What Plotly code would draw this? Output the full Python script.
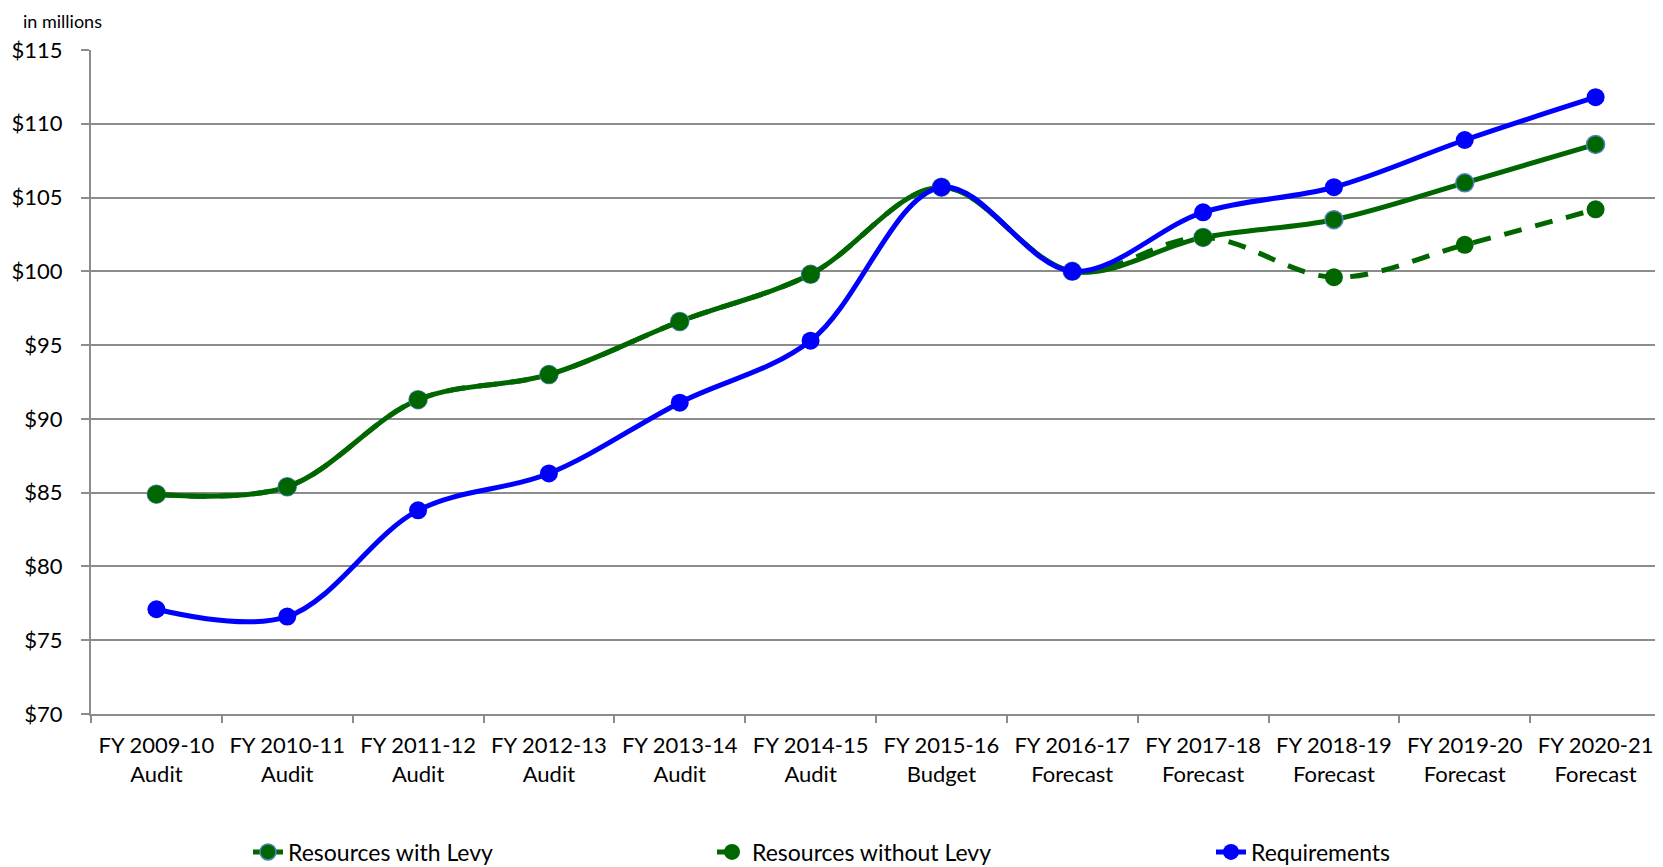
import plotly.graph_objects as go

categories = ["FY 2009-10<br>Audit", "FY 2010-11<br>Audit", "FY 2011-12<br>Audit",
              "FY 2012-13<br>Audit", "FY 2013-14<br>Audit", "FY 2014-15<br>Audit",
              "FY 2015-16<br>Budget", "FY 2016-17<br>Forecast", "FY 2017-18<br>Forecast",
              "FY 2018-19<br>Forecast", "FY 2019-20<br>Forecast", "FY 2020-21<br>Forecast"]
with_levy = [84.9, 85.4, 91.3, 93.0, 96.6, 99.8, 105.7, 100.0, 102.3, 103.5, 106.0, 108.6]
without_levy = [84.9, 85.4, 91.3, 93.0, 96.6, 99.8, 105.7, 100.0, 102.3, 99.6, 101.8, 104.2]
requirements = [77.1, 76.6, 83.8, 86.3, 91.1, 95.3, 105.7, 100.0, 104.0, 105.7, 108.9, 111.8]

GREEN = "#006600"
BLUE = "#0000FF"
FONT = "Lato"

# page body has an 8px default margin; the figure is sized to fill the rest of the window
W, H = 1655, 859
ML, MR, MT, MB = 83, 2, 42, 153
PW, PH = W - ML - MR, H - MT - MB

fig = go.Figure()
fig.add_trace(go.Scatter(x=categories, y=with_levy, name="Resources with Levy",
                         mode="lines+markers", line=dict(color=GREEN, width=5, shape="spline", smoothing=1),
                         marker=dict(size=18, color=GREEN, line=dict(color="#4F81BD", width=1.5)),
                         legend="legend"))
fig.add_trace(go.Scatter(x=categories, y=without_levy, name="Resources without Levy",
                         mode="lines+markers", line=dict(color=GREEN, width=5, shape="spline", smoothing=1, dash="18px,14px"),
                         marker=dict(size=18, color=GREEN),
                         legend="legend2"))
fig.add_trace(go.Scatter(x=categories, y=requirements, name="Requirements",
                         mode="lines+markers", line=dict(color=BLUE, width=5, shape="spline", smoothing=1),
                         marker=dict(size=18, color=BLUE),
                         legend="legend3"))

leg_common = dict(xref="container", yref="container", yanchor="middle", y=15 / H,
                  font=dict(family=FONT, size=23, color="#000000"), bgcolor="rgba(0,0,0,0)")
fig.update_layout(
    width=W, height=H,
    margin=dict(l=ML, r=MR, t=MT, b=MB, autoexpand=False),
    paper_bgcolor="white", plot_bgcolor="white",
    font=dict(family=FONT, size=22, color="#000000"),
    showlegend=True,
    legend=dict(x=240 / W, xanchor="left", **leg_common),
    legend2=dict(x=704 / W, xanchor="left", **leg_common),
    legend3=dict(x=1203 / W, xanchor="left", **leg_common),
    xaxis=dict(range=[-0.5, 11.5], showline=True, linecolor="#8c8c8c", linewidth=2,
               ticks="outside", tickson="boundaries", ticklen=7, tickcolor="#8c8c8c", tickwidth=2,
               showgrid=False, tickfont=dict(family=FONT, size=22), ticklabelstandoff=11, tickangle=0),
    yaxis=dict(range=[70, 115], dtick=5, tickprefix="$", showline=True, linecolor="#8c8c8c", linewidth=2,
               ticks="outside", ticklen=8, tickcolor="#8c8c8c", tickwidth=2,
               showgrid=True, gridcolor="#8c8c8c", gridwidth=1.5, zeroline=False,
               tickfont=dict(family=FONT, size=22), ticklabelstandoff=14),
    annotations=[dict(text="in millions", xref="paper", yref="paper",
                      x=(13 - ML) / PW, y=1 + MT / PH,
                      xanchor="left", yanchor="top", showarrow=False,
                      font=dict(family=FONT, size=18, color="#000000"))],
)

fig.write_html("out.html")
